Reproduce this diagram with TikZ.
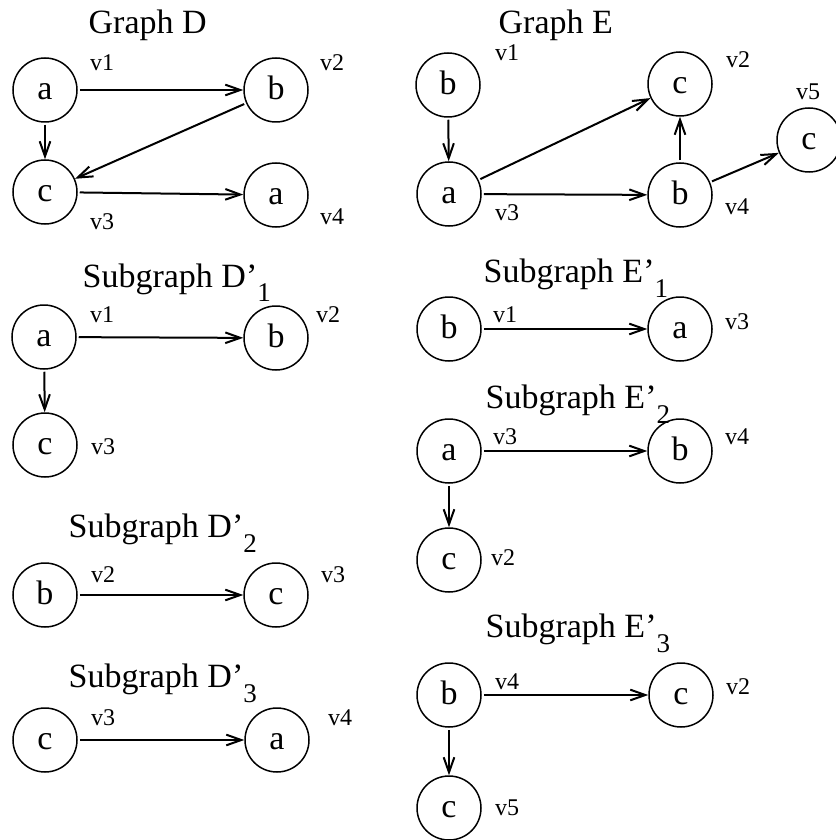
\documentclass[tikz,border=0pt]{standalone}
\usepackage{fontspec}
\setmainfont{Liberation Serif}
\usetikzlibrary{arrows.meta}
\newcommand{\subg}[2]{Subgraph #1’\raisebox{-4.5pt}{\fontsize{8.1}{8.1}\selectfont #2}}
\begin{document}
\begin{tikzpicture}[x=0.3pt,y=-0.3pt,
  nd/.style={circle,draw,line width=0.45pt,minimum size=19.2pt,inner sep=0pt,text height=0.55em,text depth=0pt,font=\fontsize{10.2}{12}\selectfont},
  lbl/.style={inner sep=0pt,font=\fontsize{7.2}{8}\selectfont},
  ttl/.style={anchor=base west,inner sep=0pt,font=\fontsize{10.2}{12}\selectfont},
  edge/.style={line width=0.6pt,-{Straight Barb[length=4.5pt,width=3.2pt,line width=0.6pt]},shorten <=0.6pt}]
\useasboundingbox (0,0) rectangle (835,840);
% Graph D
\node[ttl] (tD) at (88,34) {Graph D};
\node[nd] (Da) at (45,90) {a};
\node[nd] (Db) at (276,90) {b};
\node[nd] (Dc) at (45,192) {c};
\node[nd] (Dd) at (276,195) {a};
\node[lbl] (Dl1) at (102,63) {v1};
\node[lbl] (Dl2) at (332,63) {v2};
\node[lbl] (Dl3) at (102,222) {v3};
\node[lbl] (Dl4) at (332,217) {v4};
\draw[edge] (Da) -- (Db);
\draw[edge] (Da) -- (Dc);
\draw[edge] (Db) -- (Dc);
\draw[edge] (Dc) -- (Dd);
% Graph E
\node[ttl] (tE) at (498,34) {Graph E};
\node[nd] (Eb) at (448,85) {b};
\node[nd] (Ea) at (449,194) {a};
\node[nd] (Ec) at (680,84) {c};
\node[nd] (Ed) at (680,195) {b};
\node[nd] (Ee) at (809,140) {c};
\node[lbl] (El1) at (507,53) {v1};
\node[lbl] (El2) at (738,60) {v2};
\node[lbl] (El5) at (808,92) {v5};
\node[lbl] (El3) at (507,213) {v3};
\node[lbl] (El4) at (737,207) {v4};
\draw[edge] (Eb) -- (Ea);
\draw[edge] (Ea) -- (Ec);
\draw[edge] (Ea) -- (Ed);
\draw[edge] (Ed) -- (Ec);
\draw[edge] (Ed) -- (Ee);
% Subgraph D'1
\node[ttl] (tF) at (82,287) {\subg{D}{1}};
\node[nd] (Fa) at (44,337) {a};
\node[nd] (Fb) at (276,338) {b};
\node[nd] (Fc) at (45,445) {c};
\node[lbl] (Fl1) at (102,315) {v1};
\node[lbl] (Fl2) at (328,315) {v2};
\node[lbl] (Fl3) at (103,447) {v3};
\draw[edge] (Fa) -- (Fb);
\draw[edge] (Fa) -- (Fc);
% Subgraph D'2
\node[ttl] (tG) at (68,537) {\subg{D}{2}};
\node[nd] (Ga) at (45,595) {b};
\node[nd] (Gb) at (276,595) {c};
\node[lbl] (Gl2) at (103,575) {v2};
\node[lbl] (Gl3) at (333,575) {v3};
\draw[edge] (Ga) -- (Gb);
% Subgraph D'3
\node[ttl] (tH) at (68,687) {\subg{D}{3}};
\node[nd] (Ha) at (45,740) {c};
\node[nd] (Hb) at (277,740) {a};
\node[lbl] (Hl3) at (103,718) {v3};
\node[lbl] (Hl4) at (340,718) {v4};
\draw[edge] (Ha) -- (Hb);
% Subgraph E'1
\node[ttl] (tI) at (483,282) {\subg{E}{1}};
\node[nd] (Ia) at (449,329) {b};
\node[nd] (Ib) at (680,329) {a};
\node[lbl] (Il1) at (505,315) {v1};
\node[lbl] (Il3) at (737,322) {v3};
\draw[edge] (Ia) -- (Ib);
% Subgraph E'2
\node[ttl] (tJ) at (485,408) {\subg{E}{2}};
\node[nd] (Ja) at (449,451) {a};
\node[nd] (Jb) at (680,451) {b};
\node[nd] (Jc) at (449,560) {c};
\node[lbl] (Jl3) at (505,437) {v3};
\node[lbl] (Jl4) at (737,437) {v4};
\node[lbl] (Jl2) at (503,558) {v2};
\draw[edge] (Ja) -- (Jb);
\draw[edge] (Ja) -- (Jc);
% Subgraph E'3
\node[ttl] (tK) at (485,637) {\subg{E}{3}};
\node[nd] (Ka) at (449,695) {b};
\node[nd] (Kb) at (681,695) {c};
\node[nd] (Kc) at (449,808) {c};
\node[lbl] (Kl4) at (507,682) {v4};
\node[lbl] (Kl2) at (738,687) {v2};
\node[lbl] (Kl5) at (507,808) {v5};
\draw[edge] (Ka) -- (Kb);
\draw[edge] (Ka) -- (Kc);
\end{tikzpicture}
\end{document}
